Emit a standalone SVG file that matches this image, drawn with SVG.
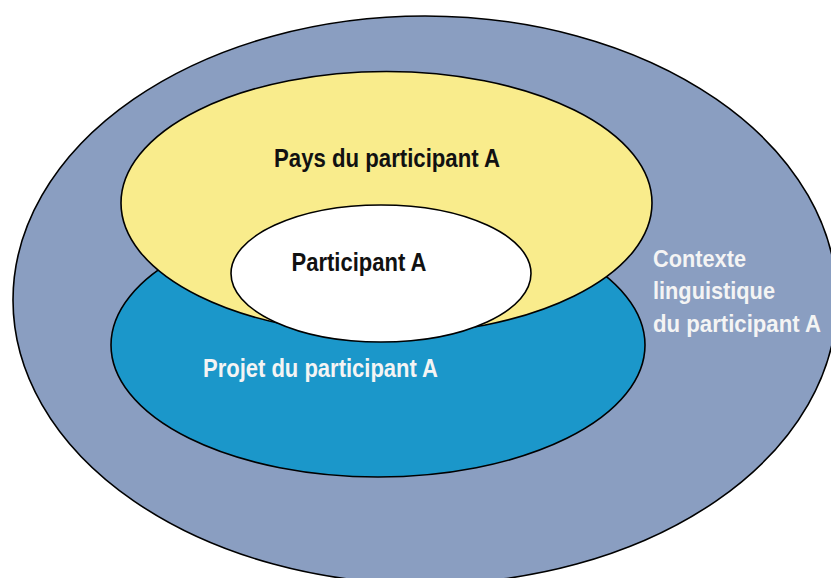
<svg xmlns="http://www.w3.org/2000/svg" width="831" height="578" viewBox="0 0 831 578">
<style>
.shape{stroke:#000;stroke-width:1.6}
.lbl{font-family:"Liberation Sans",Arial,sans-serif;font-weight:bold;font-size:25px}
.side{font-size:24px}
.dark{fill:#111}
.light{fill:#f4f4f4}
</style>
<rect width="831" height="578" fill="#fff"/>
<g id="contexte">
<ellipse class="shape" cx="425" cy="300" rx="412" ry="284" fill="#8a9ec1"/>
<text class="lbl side light" x="653" y="267" textLength="93" lengthAdjust="spacingAndGlyphs">Contexte</text>
<text class="lbl side light" x="653" y="299" textLength="122" lengthAdjust="spacingAndGlyphs">linguistique</text>
<text class="lbl side light" x="653" y="332" textLength="168" lengthAdjust="spacingAndGlyphs">du participant A</text>
</g>
<g id="projet">
<ellipse class="shape" cx="378" cy="345" rx="267" ry="132" fill="#1b97ca"/>
<text class="lbl light" x="203" y="377" textLength="235" lengthAdjust="spacingAndGlyphs">Projet du participant A</text>
</g>
<g id="pays">
<ellipse class="shape" cx="386.5" cy="203" rx="265.5" ry="131.5" fill="#f9ec8c"/>
<text class="lbl dark" x="274" y="166.5" textLength="226" lengthAdjust="spacingAndGlyphs">Pays du participant A</text>
</g>
<g id="participant">
<ellipse class="shape" cx="381" cy="273.5" rx="150" ry="68.5" fill="#fff"/>
<text class="lbl dark" x="291.5" y="270.5" textLength="135" lengthAdjust="spacingAndGlyphs">Participant A</text>
</g>
<g id="connectors"/>
</svg>
